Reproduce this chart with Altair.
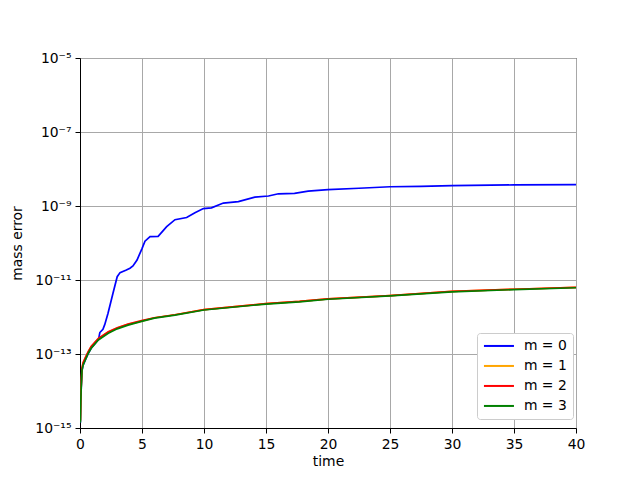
import altair as alt
import pandas as pd

# ---- data (time, log10 of mass error) ----
blue_t = [0.03, 0.06, 0.1, 0.16, 0.25, 0.43, 0.67, 0.91, 1.2, 1.5, 1.6, 1.85, 2.0, 2.26, 2.66, 3.0,
          3.23, 3.74, 4.03, 4.27, 4.6, 5.0, 5.24, 5.65, 6.3, 6.99, 7.66, 8.6, 9.27, 9.95, 10.6,
          11.56, 12.77, 14.1, 15.2, 16.0, 17.3, 18.4, 20.0, 22.5, 25.0, 27.5, 30.0, 35.0, 40.0]
blue_log = [-14.85, -14.3, -13.9, -13.45, -13.3, -13.16, -12.98, -12.84, -12.72, -12.6, -12.42,
            -12.33, -12.2, -11.9, -11.36, -10.91, -10.8, -10.73, -10.68, -10.62, -10.46, -10.15,
            -9.95, -9.83, -9.82, -9.56, -9.37, -9.31, -9.18, -9.07, -9.05, -8.92, -8.88, -8.76,
            -8.73, -8.67, -8.66, -8.6, -8.56, -8.52, -8.48, -8.47, -8.45, -8.43, -8.42]

other_t = [0.03, 0.06, 0.1, 0.16, 0.25, 0.43, 0.67, 0.91, 1.48, 2.28, 3.0, 3.87, 4.97, 6.0,
           7.66, 10.0, 12.5, 15.0, 17.7, 20.0, 25.0, 30.0, 35.0, 40.0]
orange_log = [-14.8, -14.25, -13.85, -13.4, -13.25, -13.11, -12.94, -12.8, -12.59, -12.41,
              -12.3, -12.2, -12.11, -12.02, -11.94, -11.8, -11.72, -11.64, -11.58, -11.51,
              -11.42, -11.31, -11.25, -11.2]
red_log = [-14.8, -14.24, -13.84, -13.38, -13.23, -13.1, -12.93, -12.79, -12.58, -12.4,
           -12.29, -12.19, -12.1, -12.02, -11.94, -11.8, -11.72, -11.64, -11.58, -11.51,
           -11.42, -11.31, -11.25, -11.2]
green_log = [-14.85, -14.3, -13.9, -13.45, -13.3, -13.16, -12.98, -12.84, -12.62, -12.44,
             -12.32, -12.22, -12.12, -12.03, -11.95, -11.81, -11.73, -11.65, -11.59, -11.52,
             -11.43, -11.32, -11.26, -11.21]

labels = ["m = 0", "m = 1", "m = 2", "m = 3"]
colors = ["blue", "orange", "red", "green"]
y_ticks = [1e-15, 1e-13, 1e-11, 1e-9, 1e-7, 1e-5]
x_ticks = [0, 5, 10, 15, 20, 25, 30, 35, 40]

rows = []
for lab, ts, ls in [(labels[0], blue_t, blue_log), (labels[1], other_t, orange_log),
                    (labels[2], other_t, red_log), (labels[3], other_t, green_log)]:
    for i, (t, l) in enumerate(zip(ts, ls)):
        rows.append({"time": t, "err": 10 ** l, "series": lab, "order": i})
df = pd.DataFrame(rows)

sup_expr = ("round(log(datum.value)/LN10) == -5 ? '10⁻⁵' : "
            "round(log(datum.value)/LN10) == -7 ? '10⁻⁷' : "
            "round(log(datum.value)/LN10) == -9 ? '10⁻⁹' : "
            "round(log(datum.value)/LN10) == -11 ? '10⁻¹¹' : "
            "round(log(datum.value)/LN10) == -13 ? '10⁻¹³' : '10⁻¹⁵'")

chart = alt.Chart(df).mark_line(strokeWidth=1.7, clip=True).encode(
    x=alt.X("time:Q", title="time",
            scale=alt.Scale(domain=[0, 40], nice=False, zero=False),
            axis=alt.Axis(values=x_ticks, format="d", grid=True, labelFlush=False)),
    y=alt.Y("err:Q", title="mass error",
            scale=alt.Scale(type="log", domain=[1e-15, 1e-5], nice=False),
            axis=alt.Axis(values=y_ticks, labelExpr=sup_expr, grid=True, labelFlush=False)),
    color=alt.Color("series:N", title=None,
                    scale=alt.Scale(domain=labels, range=colors),
                    legend=alt.Legend(orient="none", legendX=397, legendY=275,
                                      symbolType="M-3,0H3", symbolSize=100,
                                      symbolStrokeWidth=2, symbolOffset=9,
                                      labelFontSize=13.9, labelOffset=18,
                                      fillColor="white", strokeColor="#cccccc",
                                      cornerRadius=3, padding=6, rowPadding=5)),
    order="order:Q",
).properties(
    width=496, height=370,
    padding={"left": 72, "top": 50, "right": 56, "bottom": 44},
    autosize=alt.AutoSizeParams(type="none"),
).configure(
    font="DejaVu Sans",
).configure_view(
    stroke="black", strokeWidth=1,
).configure_axis(
    domainColor="black", tickColor="black", tickSize=5, labelPadding=4,
    labelFontSize=13.9, labelColor="black", titleFontSize=13.9, titleColor="black",
    titleFontWeight="normal", gridColor="#a8a8a8", gridWidth=1,
).configure_axisY(
    titlePadding=10,
).configure_axisX(
    titlePadding=4,
)

chart.save("out.html", embed_options={"renderer": "svg", "actions": False})
